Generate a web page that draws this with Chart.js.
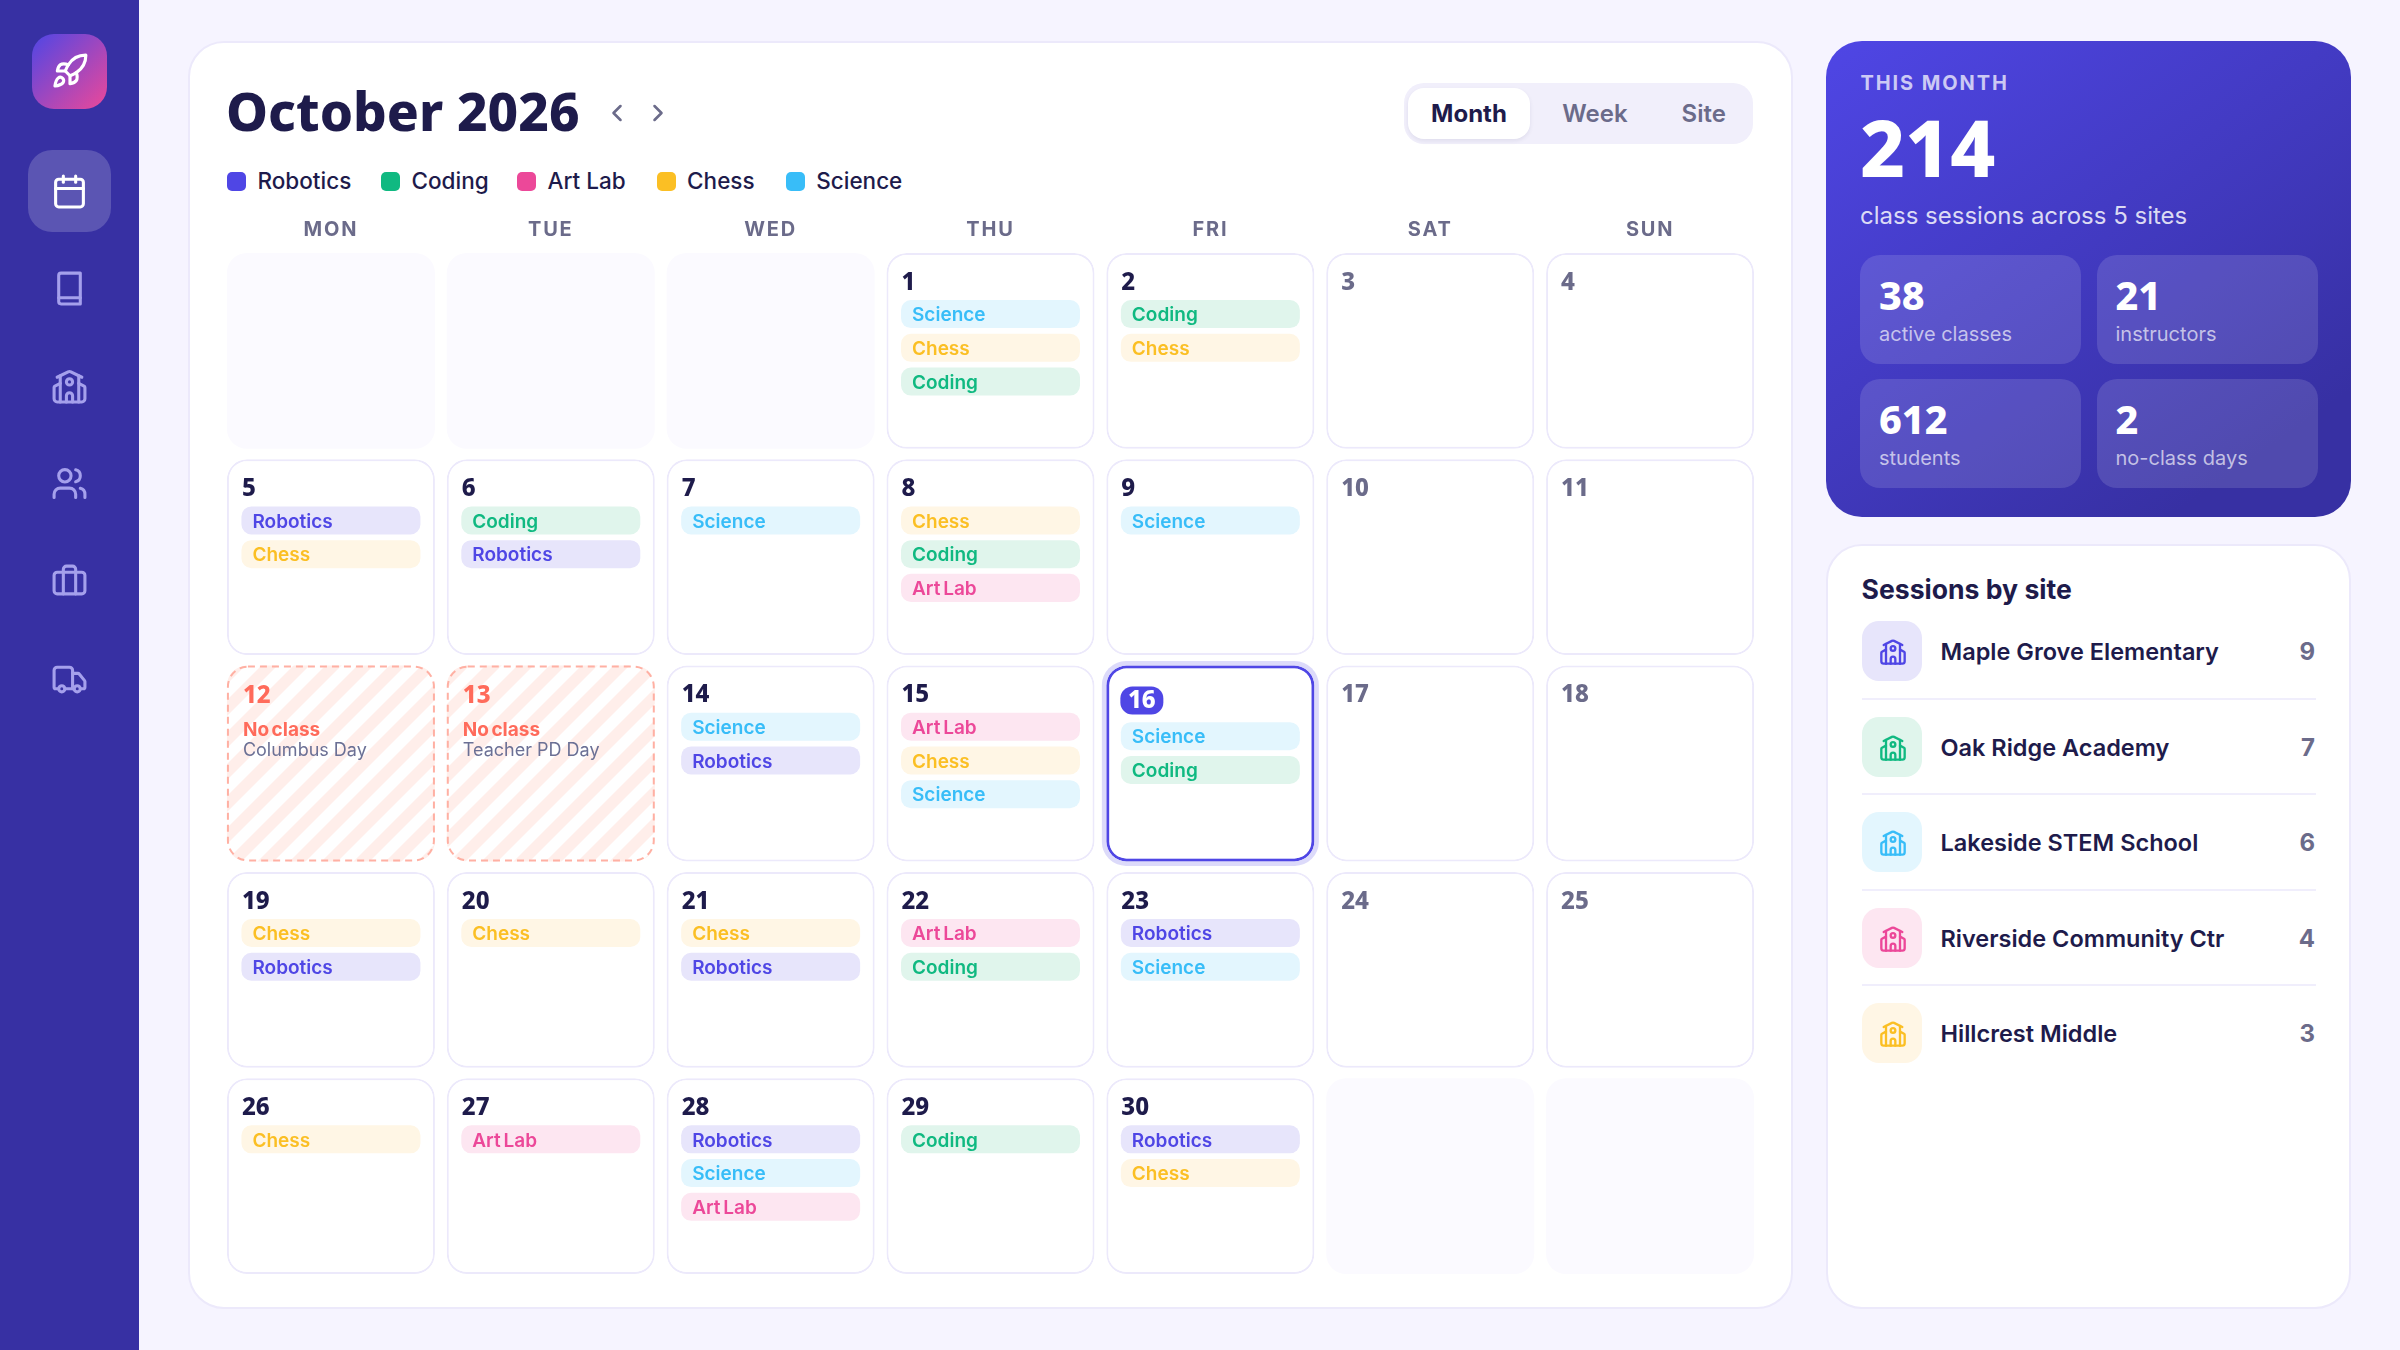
<!DOCTYPE html>
<html><head><meta charset="utf-8">
<script src="https://cdn.jsdelivr.net/npm/chart.js@4"></script>
<style>
*{box-sizing:border-box;margin:0;padding:0}
html,body{width:2400px;height:1350px;overflow:hidden;background:#f6f4ff;font-family:Inter,sans-serif}
.abs{position:absolute;white-space:nowrap}
.hd{font-family:"Noto Sans",sans-serif}
svg{fill:none;stroke:currentColor;stroke-linecap:round;stroke-linejoin:round;position:absolute}
#side{left:0;top:0;width:139px;height:1350px;background:#3730a3}
#logo{left:32px;top:34px;width:75px;height:75px;border-radius:22px;background:linear-gradient(135deg,#4f46e5,#ec4899)}
#active{left:28px;top:150px;width:83px;height:82px;border-radius:24px;background:rgba(255,255,255,.18)}
#main{left:188px;top:41px;width:1605px;height:1268px;background:#fff;border:2px solid #ece9fb;border-radius:36px}
#toggle{left:1404px;top:83px;width:349px;height:61px;background:#f1effb;border-radius:20px}
#tActive{left:1408px;top:88px;width:122px;height:51px;background:#fff;border-radius:16px;box-shadow:0 2px 4px rgba(30,27,75,.08)}
.tog{top:98px;line-height:32px;font-size:24px;font-weight:600;color:#6b6b8a;transform:translateX(-50%)}
#stats{left:1826px;top:41px;width:525px;height:476px;border-radius:36px;background:linear-gradient(145deg,#4f46e5,#3730a3 85%)}
.tile{width:221px;height:109px;border-radius:20px;background:rgba(255,255,255,.13)}
#sites{left:1826px;top:544px;width:525px;height:765px;background:#fff;border:2px solid #ece9fb;border-radius:36px}
#cal{position:absolute;left:220.5px;top:200px}
</style></head><body>
<div id="root"></div>
<canvas id="cal" width="1539" height="1079" style="width:1539px;height:1079px"></canvas>
<script>
const monthTitle = "October 2026";
const weekdays = ["MON","TUE","WED","THU","FRI","SAT","SUN"];
const subjects = ["Robotics","Coding","Art Lab","Chess","Science"];
const subjectColors = ["#4f46e5","#10b981","#ec4899","#fbbf24","#38bdf8"];
const subjectTints = ["#e7e5fb","#e0f5ec","#fde6f1","#fff6e5","#e3f6fe"];
const viewTabs = ["Month","Week","Site"];
const daysInView = 30;
const firstColumn = 3;
const todayDay = 16;
const sessionsByDay = {
  1:["Science","Chess","Coding"],2:["Coding","Chess"],
  5:["Robotics","Chess"],6:["Coding","Robotics"],7:["Science"],8:["Chess","Coding","Art Lab"],9:["Science"],
  14:["Science","Robotics"],15:["Art Lab","Chess","Science"],16:["Science","Coding"],
  19:["Chess","Robotics"],20:["Chess"],21:["Chess","Robotics"],22:["Art Lab","Coding"],23:["Robotics","Science"],
  26:["Chess"],27:["Art Lab"],28:["Robotics","Science","Art Lab"],29:["Coding"],30:["Robotics","Chess"]
};
const noClassDays = {12:"Columbus Day",13:"Teacher PD Day"};
const statTotal = "214";
const statLabel = "class sessions across 5 sites";
const statValues = ["38","21","612","2"];
const statNames = ["active classes","instructors","students","no-class days"];
const siteNames = ["Maple Grove Elementary","Oak Ridge Academy","Lakeside STEM School","Riverside Community Ctr","Hillcrest Middle"];
const siteCounts = [9,7,6,4,3];
const siteTints = ["#e7e5fb","#e0f5ec","#e3f6fe","#fde6f1","#fff6e5"];
const siteColors = ["#4f46e5","#10b981","#38bdf8","#ec4899","#fbbf24"];

const I = {
 rocket:'<path d="M4.5 16.5c-1.5 1.26-2 5-2 5s3.74-.5 5-2c.71-.84.7-2.13-.09-2.91a2.18 2.18 0 0 0-2.91-.09z"/><path d="m12 15-3-3a22 22 0 0 1 2-3.95A12.88 12.88 0 0 1 22 2c0 2.72-.78 7.5-6 11a22.35 22.35 0 0 1-4 2z"/><path d="M9 12H4s.55-3.03 2-4c1.62-1.08 5 0 5 0"/><path d="M12 15v5s3.03-.55 4-2c1.08-1.62 0-5 0-5"/>',
 calendar:'<path d="M8 2v4"/><path d="M16 2v4"/><rect width="18" height="18" x="3" y="4" rx="2"/><path d="M3 10h18"/>',
 book:'<path d="M5 19V3.5A1.5 1.5 0 0 1 6.500 2H19v20H6.500A1.500 1.500 0 0 1 5 20.500z"/><path d="M5 18h14"/>',
 school:'<path d="M14 22v-4a2 2 0 1 0-4 0v4"/><path d="m18 10 3.447 1.724a1 1 0 0 1 .553.894V20a2 2 0 0 1-2 2H4a2 2 0 0 1-2-2v-7.382a1 1 0 0 1 .553-.894L6 10"/><path d="M18 5v17"/><path d="m4 6 7.106-3.553a2 2 0 0 1 1.788 0L20 6"/><path d="M6 5v17"/><circle cx="12" cy="9" r="2"/>',
 users:'<path d="M16 21v-2a4 4 0 0 0-4-4H6a4 4 0 0 0-4 4v2"/><circle cx="9" cy="7" r="4"/><path d="M22 21v-2a4 4 0 0 0-3-3.87"/><path d="M16 3.13a4 4 0 0 1 0 7.75"/>',
 case:'<path d="M16 20V4a2 2 0 0 0-2-2h-4a2 2 0 0 0-2 2v16"/><rect width="20" height="14" x="2" y="6" rx="2"/>',
 truck:'<path d="M14 18V6a2 2 0 0 0-2-2H4a2 2 0 0 0-2 2v11a1 1 0 0 0 1 1h2"/><path d="M15 18H9"/><path d="M19 18h2a1 1 0 0 0 1-1v-3.65a1 1 0 0 0-.22-.624l-3.48-4.35A1 1 0 0 0 17.52 8H14"/><circle cx="17" cy="18" r="2"/><circle cx="7" cy="18" r="2"/>'
};
const root = document.getElementById("root");
function box(css,html,id,cls){const d=document.createElement("div");d.className="abs "+(cls||"");if(id)d.id=id;d.style.cssText=css||"";d.innerHTML=html||"";root.appendChild(d);return d;}
function icon(name,cx,cy,size,color,sw){box(`left:${cx-size/2}px;top:${cy-size/2}px;width:${size}px;height:${size}px;color:${color}`,`<svg viewBox="0 0 24 24" width="${size}" height="${size}" stroke-width="${sw}">${I[name]}</svg>`);}
function text(t,x,cy,css,cls){const lh=60;box(`left:${x}px;top:${cy-lh/2}px;line-height:${lh}px;${css}`,t,null,cls);}

box("","",'side'); box("","",'logo'); box("","",'active');
icon("rocket",69.5,71,38,"#fff",2);
["calendar","book","school","users","case","truck"].forEach((n,i)=>icon(n,69.5,191+i*97.6,37,i?"#a5a0ec":"#fff",2));
box("","",'main');
text(monthTitle,226,111,"font-size:53px;font-weight:800;color:#1e1b4b","hd");
box(`left:603px;top:99px;width:28px;height:28px;color:#6b6b8a`,'<svg viewBox="0 0 24 24" width="28" height="28" stroke-width="2.2"><path d="m15 18-6-6 6-6"/></svg>');
box(`left:644px;top:99px;width:28px;height:28px;color:#6b6b8a`,'<svg viewBox="0 0 24 24" width="28" height="28" stroke-width="2.2"><path d="m9 18 6-6-6-6"/></svg>');
box("","",'toggle'); box("","",'tActive');
[1469,1595,1703.7].forEach((x,i)=>box(`left:${x}px;${i?"":"color:#1e1b4b;font-weight:700"}`,viewTabs[i],null,"tog"));
const legendX=[227,381,517,656.6,785.7];
subjects.forEach((s,i)=>{
  box(`left:${legendX[i]}px;top:172px;width:19px;height:19px;border-radius:5px;background:${subjectColors[i]}`);
  text(s,legendX[i]+30.5,181,"font-size:22.5px;font-weight:500;color:#1e1b4b");
});
box("","",'stats');
text("THIS MONTH",1860.500,83,"font-size:20px;font-weight:700;letter-spacing:1.9px;color:rgba(255,255,255,.72)");
text(statTotal,1860,147,"font-size:78px;font-weight:800;color:#fff","hd");
text(statLabel,1860,215.5,"font-size:24px;color:rgba(255,255,255,.82)");
statValues.forEach((v,i)=>{
  const x=i%2?2096.500:1860, y=i<2?255:379;
  box(`left:${x}px;top:${y}px`,"",null,"tile");
  text(v,x+19,y+40,"font-size:39.5px;font-weight:800;color:#fff","hd");
  text(statNames[i],x+19,y+79,"font-size:20px;color:rgba(255,255,255,.66)");
});
box("","",'sites');
text("Sessions by site",1861.500,589,"font-size:26.6px;font-weight:700;color:#1e1b4b");
siteNames.forEach((n,i)=>{
  const y=621+i*95.6;
  box(`left:1862px;top:${y}px;width:60px;height:60px;border-radius:17px;background:${siteTints[i]}`);
  icon("school",1893,y+31,28,siteColors[i],2);
  text(n,1940.500,y+31,"font-size:23.5px;font-weight:600;color:#1e1b4b");
  box(`left:2215px;width:100px;text-align:right;top:${y+1}px;line-height:60px;font-size:24px;font-weight:700;color:#6b6b8a`,String(siteCounts[i]));
  if(i<4)box(`left:1862px;width:454px;top:${y+76.500}px;height:2px;background:#f0eefc`);
});

/* ---------- calendar chart ---------- */
const ROW_PX=206, PAD=5.500, CELL=195.5, PILL_H=28, PILL_STEP=33.7, PILL_TOP=47, TODAY_SHIFT=9.5;
const at=d=>{const n=d-1+firstColumn;return {col:weekdays[n%7],row:Math.floor(n/7)};};
const span=(row,a,b)=>[row+(PAD+a)/ROW_PX,row+(PAD+b)/ROW_PX];
const allDays=Array.from({length:daysInView},(_,i)=>i+1);
const regular=allDays.filter(d=>!noClassDays[d]&&d!==todayDay);
const blankSlots=[[0,0],[1,0],[2,0],[5,4],[6,4]];

const T=32, PH=26;
const tile=document.createElement("canvas");tile.width=tile.height=T;
const tc=tile.getContext("2d");tc.fillStyle="#fff";tc.fillRect(0,0,T,T);tc.fillStyle="#ffeeea";
[-T,0,T,2*T].forEach(k=>{const a=PH+k;tc.beginPath();tc.moveTo(a+T+10,-T-10);tc.lineTo(a+T/2+T+10,-T-10);tc.lineTo(a+T/2-T-10,T+10);tc.lineTo(a-T-10,T+10);tc.closePath();tc.fill();});
const hatch=tc.createPattern(tile,"repeat");

const pillSets=subjects.map((s,k)=>({
  label:s,
  data:allDays.flatMap(d=>(sessionsByDay[d]||[]).map((name,i)=>({name,i,d})).filter(o=>o.name===s).map(o=>{
    const p=at(o.d),off=PILL_TOP+o.i*PILL_STEP+(o.d===todayDay?TODAY_SHIFT:0);
    return {x:p.col,y:span(p.row,off,off+PILL_H),pill:s};
  })),
  backgroundColor:subjectTints[k],textColor:subjectColors[k],barThickness:179,borderRadius:10,borderWidth:0
}));
const mk=(days,extra)=>Object.assign({data:days.map(d=>{const p=at(d);return {x:p.col,y:span(p.row,0,CELL),day:d};}),barThickness:208,borderRadius:20},extra);
const datasets=[...pillSets,
  mk([todayDay],{label:"today",backgroundColor:"#fff",borderColor:"#4f46e5",borderWidth:3}),
  {label:"todayRing",data:[(()=>{const p=at(todayDay);return {x:p.col,y:span(p.row,-4.5,CELL+4.5)};})()],barThickness:217,borderRadius:24,backgroundColor:"rgba(79,70,229,.2)",borderWidth:0},
  mk(Object.keys(noClassDays).map(Number),{label:"noClass",backgroundColor:hatch,borderWidth:0}),
  mk(regular,{label:"days",backgroundColor:"#fff",borderColor:"#ece9fb",borderWidth:2}),
  {label:"blank",data:blankSlots.map(([c,r])=>({x:weekdays[c],y:span(r,0,CELL)})),barThickness:208,borderRadius:20,backgroundColor:"#fbfaff",borderWidth:0}
];
const HEAD='"Noto Sans",sans-serif';
const labelPlugin={
  id:"calLabels",
  beforeDraw(c){c.ctx.letterSpacing="1.8px";},
  afterDatasetsDraw(c){
    const g=c.ctx;g.save();g.letterSpacing="0px";g.textBaseline="middle";g.textAlign="left";
    c.data.datasets.forEach((ds,di)=>{
      c.getDatasetMeta(di).data.forEach((el,j)=>{
        const raw=ds.data[j],left=el.x-el.width/2,top=Math.min(el.y,el.base),h=Math.abs(el.y-el.base);
        if(raw.pill){
          g.font='600 19px Inter';g.fillStyle=ds.textColor;g.wordSpacing="-2px";
          g.fillText(raw.pill,left+11,top+h/2+1.500);g.wordSpacing="0px";
        }
        if(raw.day){
          const d=raw.day;
          if(ds.label==="noClass"){
            g.setLineDash([7,5]);g.lineWidth=2;g.strokeStyle="#ffb0a3";
            g.beginPath();g.roundRect(left+1,top+1,el.width-2,h-2,20);g.stroke();g.setLineDash([]);
            g.font='800 24px '+HEAD;g.fillStyle="#ff6b5b";g.fillText(String(d),left+16,top+31);
            g.font='700 19px Inter';g.wordSpacing="-2px";g.fillText("No class",left+16,top+65);g.wordSpacing="0px";
            g.font='400 18px Inter';g.fillStyle="#6b7095";g.fillText(noClassDays[d],left+16,top+85);
          }else if(d===todayDay){
            g.fillStyle="#4f46e5";g.beginPath();g.roundRect(left+14,top+21,43,28,12);g.fill();
            g.font='800 24px '+HEAD;g.fillStyle="#fff";g.textAlign="center";g.fillText(String(d),left+35.500,top+36);g.textAlign="left";
          }else{
            const weekend=raw.x==="SAT"||raw.x==="SUN";
            g.font='800 24px '+HEAD;g.fillStyle=weekend?"#6b6b8a":"#1e1b4b";g.fillText(String(d),left+15,top+30);
          }
        }
      });
    });
    g.restore();
  }
};
new Chart(document.getElementById("cal"),{
  type:"bar",
  data:{labels:weekdays,datasets},
  options:{
    responsive:false,animation:false,devicePixelRatio:1,events:[],
    layout:{padding:0},
    datasets:{bar:{grouped:false,borderSkipped:false,inflateAmount:0}},
    plugins:{legend:{display:false},tooltip:{enabled:false}},
    scales:{
      x:{type:"category",position:"top",offset:true,labels:weekdays,
         grid:{display:false,drawTicks:false},border:{display:false},
         ticks:{color:"#6b6b8a",font:{family:"Inter",size:20,weight:"700"},padding:6,maxRotation:0,autoSkip:false},
         afterFit(s){s.height=47.5;}},
      y:{type:"linear",reverse:true,min:0,max:5,display:false}
    }
  },
  plugins:[labelPlugin]
});
</script>
</body></html>
